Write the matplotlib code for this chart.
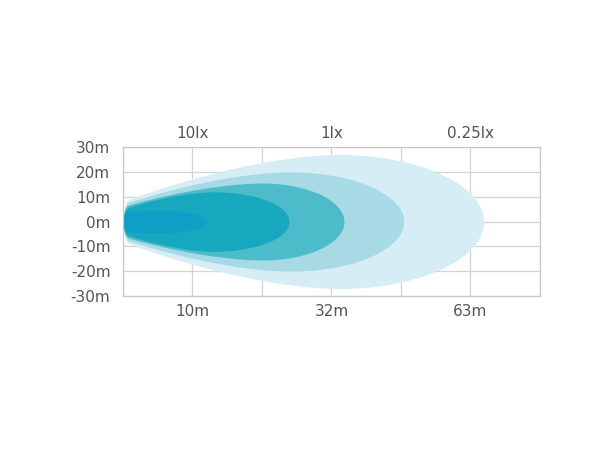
import matplotlib.pyplot as plt
import numpy as np

# distance axis is drawn on 6 equal grid columns, three of them labelled
grid_cols = [0, 1, 2, 3, 4, 5, 6]
dist_labels = ['', '10m', '', '32m', '', '63m', '']
lux_labels = ['', '10lx', '', '1lx', '', '0.25lx', '']
width_ticks = [30, 20, 10, 0, -10, -20, -30]
width_labels = ['30m', '20m', '10m', '0m', '-10m', '-20m', '-30m']

# beam zones, outer to inner (reach in grid columns, widths in metres)
reach = [5.19, 4.04, 3.18, 2.39, 1.2]
half_width = [27, 20, 15.5, 12, 4.5]
peak_at = [3.1, 2.4, 2.0, 1.3, 0.55]
nose = [8, 7, 6, 5, 4]
colors = ['#d6edf5', '#a8dae5', '#4cbcca', '#17a8c0', '#0e9fc6']


def outline(L, W, c, h0, k=1.7, r=0.08):
    """ half-width of a beam zone along the distance axis """
    x = np.linspace(0, L, 600)
    t = np.clip(1 - x / c, 0, 1)
    left = h0 + (W - h0) * (1 - t**k)
    u = np.clip((x - c) / (L - c), 0, 1)
    right = W * np.sqrt(1 - u**2)
    y = np.where(x < c, left, right)
    tip = np.sqrt(1 - np.clip(1 - x / r, 0, 1)**2)
    return x, y * tip


plt.rcParams['font.family'] = ['DejaVu Sans']
fig = plt.figure(figsize=(6.1, 4.5), dpi=100)
ax = fig.add_axes([0.2016, 0.3422, 0.6836, 0.3311])

for L, W, c, h0, col in zip(reach, half_width, peak_at, nose, colors):
    x, y = outline(L, W, c, h0)
    ax.fill_between(x, -y, y, color=col, lw=0, zorder=2)

ax.set_xlim(0, 6)
ax.set_ylim(-30, 30)
ax.set_xticks(grid_cols)
ax.set_xticklabels(dist_labels)
ax.set_yticks(width_ticks)
ax.set_yticklabels(width_labels)
ax.grid(True, color='#d4d4d4', lw=0.9, zorder=0)
ax.set_axisbelow(True)
for s in ax.spines.values():
    s.set_color('#c8c8c8')
    s.set_linewidth(0.9)
ax.tick_params(length=0, labelsize=11, labelcolor='#555555')
ax.tick_params(axis='y', pad=9)
ax.tick_params(axis='x', pad=6)

top = ax.secondary_xaxis('top')
top.set_xticks(grid_cols)
top.set_xticklabels(lux_labels)
top.tick_params(length=0, labelsize=11, labelcolor='#555555', pad=4)
top.spines['top'].set_visible(False)

fig.savefig('out.png', dpi=100)
